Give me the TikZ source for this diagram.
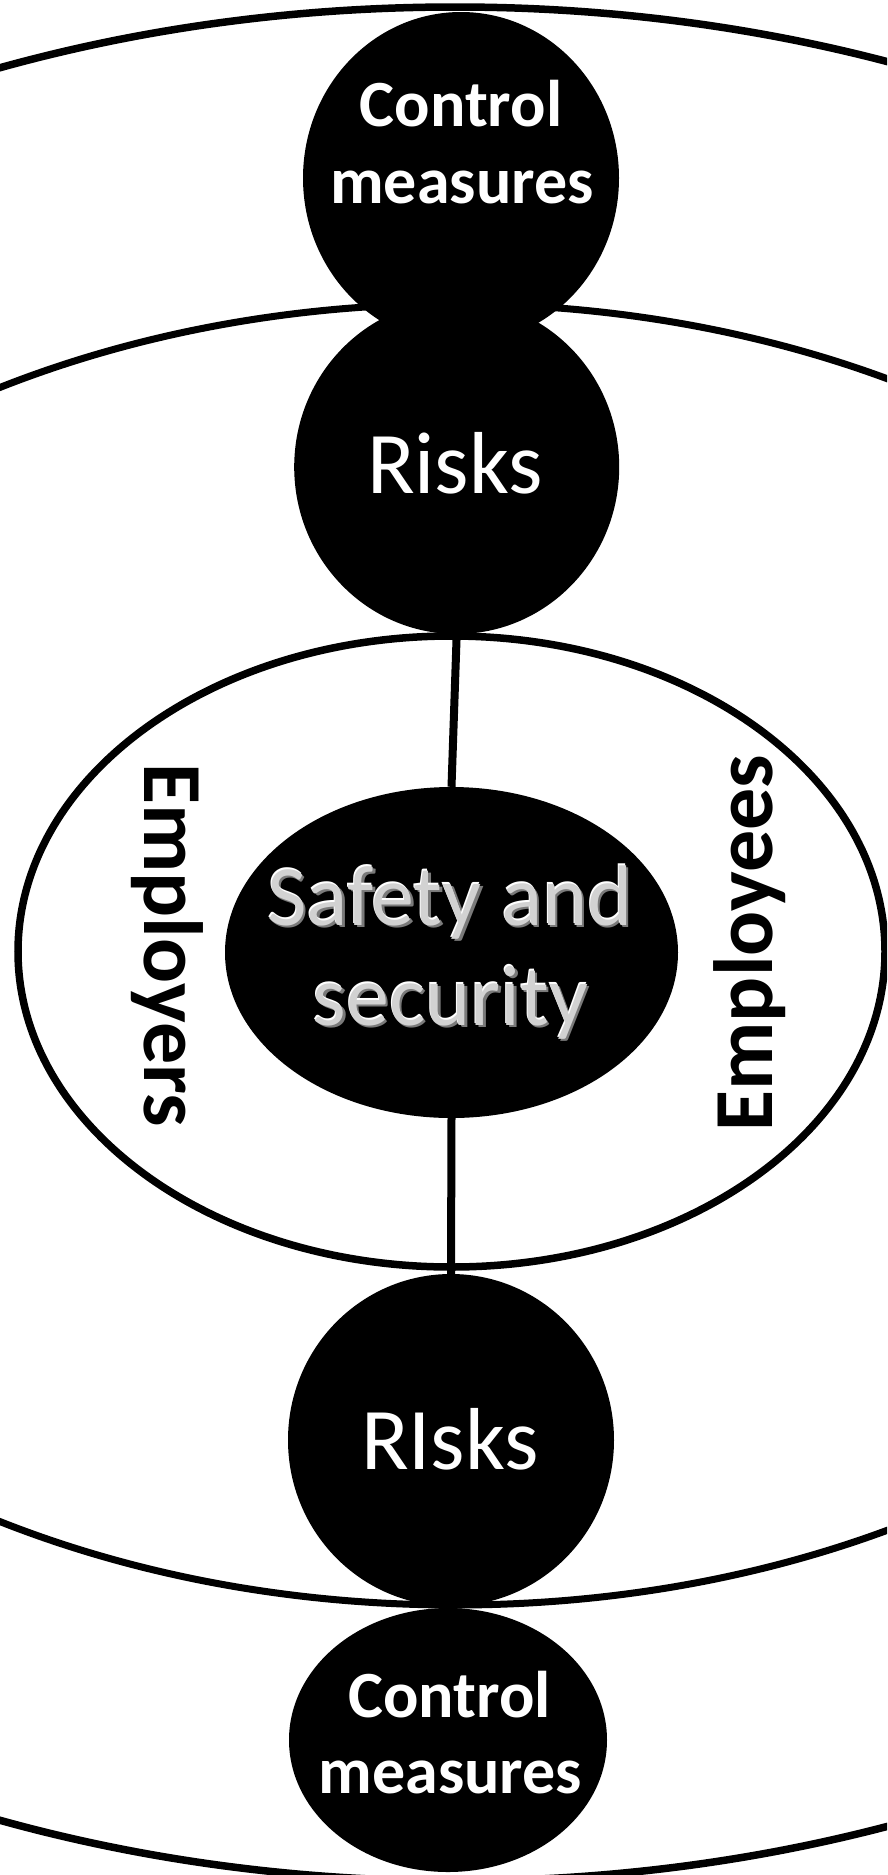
\documentclass[tikz,border=0pt]{standalone}
\usepackage{fontspec}
\setmainfont{Carlito}
\usetikzlibrary{shapes.geometric}
\definecolor{bevelface}{HTML}{D2D2D2}
\definecolor{bevelshade}{HTML}{7A7A7A}
\begin{document}
\begin{tikzpicture}[x=1pt,y=-1pt,
  ringline/.style={ellipse, draw=black, line width=7.5pt, inner sep=0pt, fill=none},
  blob/.style={ellipse, fill=black, draw=none, inner sep=0pt},
  whitebold/.style={text=white, font=\bfseries\fontsize{66}{76}\selectfont, anchor=base, inner sep=0pt},
  whitereg/.style={text=white, font=\fontsize{88}{100}\selectfont, anchor=base, inner sep=0pt},
  bevel/.style={font=\fontsize{86}{100}\selectfont, anchor=base, inner sep=0pt},
  sidelabel/.style={text=black, font=\bfseries\fontsize{84}{96}\selectfont, anchor=base, inner sep=0pt},
  connector/.style={draw=black, line width=8pt}]
\useasboundingbox (0,0) rectangle (887,1875);
\clip (0,0) rectangle (887,1875);
\fill[white] (0,0) rectangle (887,1875);
% rings
\node[ringline, minimum width=2564pt, minimum height=1874pt] (outer) at (455,944) {};
\node[ringline, line width=7pt, minimum width=1856pt, minimum height=1301pt] (ring) at (455,954.5) {};
\node[ringline, minimum width=867pt, minimum height=631pt] (inner) at (451.5,951.5) {};
% black shapes
\node[blob, minimum width=316pt, minimum height=332pt] (ctop) at (461,178) {};
\node[blob, minimum width=325pt, minimum height=334pt] (rtop) at (456.7,467) {};
\node[blob, minimum width=453pt, minimum height=331pt] (safety) at (451.5,952.5) {};
\node[blob, minimum width=326pt, minimum height=332pt] (rbot) at (451,1440) {};
\node[blob, minimum width=318pt, minimum height=264pt] (cbot) at (448,1740) {};
% connectors
\draw[connector] (rtop.south) -- (safety.north);
\draw[connector] (safety.south) -- (rbot.north);
% texts
\node[whitebold] (ctop1) at (461,126.5) {Control};
\node[whitebold] (ctop2) at (462,203) {measures};
\node[whitereg] (rtoptext) at (455,493.5) {Risks};
\node[whitereg] (rbottext) at (450,1469) {RIsks};
\node[whitebold] (cbot1) at (449.5,1717) {Control};
\node[whitebold] (cbot2) at (450.5,1793) {measures};
% bevelled centre text
\node[bevel, text=bevelshade] (sa1s) at (452.5,927) {Safety and};
\node[bevel, text=white] (sa1h) at (449,923.5) {Safety and};
\node[bevel, text=bevelface] (sa1) at (450,925) {Safety and};
\node[bevel, text=bevelshade] (sa2s) at (453,1027) {security};
\node[bevel, text=white] (sa2h) at (449.5,1023.5) {security};
\node[bevel, text=bevelface] (sa2) at (450.5,1025) {security};
% side labels
\node[sidelabel, rotate=-90] (employers) at (144,945) {Employers};
\node[sidelabel, rotate=90] (employees) at (772,943) {Employees};
\end{tikzpicture}
\end{document}
